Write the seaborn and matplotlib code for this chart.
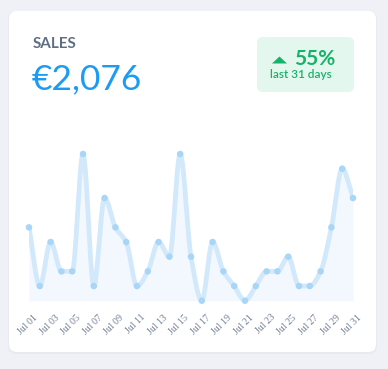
import numpy as np
import matplotlib
matplotlib.use("Agg")
import matplotlib.pyplot as plt
from matplotlib.patches import FancyBboxPatch, Polygon
from matplotlib.transforms import ScaledTranslation
import seaborn as sns

# данные графика
days = list(range(1, 32))
sales = [5, 1, 4, 2, 2, 10, 1, 7, 5, 4, 1, 2, 4, 3, 10, 3, 0, 4, 2, 1,
         0, 1, 2, 2, 3, 1, 1, 2, 5, 9, 7]
tick_days = list(range(1, 32, 2))
tick_labels = ["Jul %02d" % d for d in tick_days]
title = "SALES"
total = "€2,076"
change = "55%"
period = "last 31 days"

W, H = 388, 369


def monotone(x, y, n=20):
    # монотонная кубическая кривая (как в Chart.js) для сглаженной линии
    x = np.asarray(x, float)
    y = np.asarray(y, float)
    h = np.diff(x)
    d = np.diff(y) / h
    m = np.zeros_like(y)
    m[0], m[-1] = d[0], d[-1]
    for i in range(1, len(y) - 1):
        if d[i - 1] * d[i] <= 0:
            m[i] = 0
        else:
            m[i] = 2 / (1 / d[i - 1] + 1 / d[i])
    xs, ys = [], []
    for i in range(len(x) - 1):
        t = np.linspace(0, 1, n, endpoint=False)
        h00 = 2 * t**3 - 3 * t**2 + 1
        h10 = t**3 - 2 * t**2 + t
        h01 = -2 * t**3 + 3 * t**2
        h11 = t**3 - t**2
        xs.append(x[i] + t * h[i])
        ys.append(h00 * y[i] + h10 * h[i] * m[i] + h01 * y[i + 1] + h11 * h[i] * m[i + 1])
    xs.append([x[-1]])
    ys.append([y[-1]])
    return np.concatenate(xs), np.concatenate(ys)


sns.set_style("white")
plt.rcParams['font.family'] = ['Lato', 'DejaVu Sans']

fig = plt.figure(figsize=(W / 100, H / 100), dpi=100)
fig.patch.set_facecolor("#eff1f6")

# фон-карточка в пиксельных координатах
bg = fig.add_axes([0, 0, 1, 1])
bg.set_xlim(0, W)
bg.set_ylim(H, 0)
bg.axis("off")
bg.add_patch(FancyBboxPatch((8, 11), 369, 343, boxstyle="round,pad=0,rounding_size=8",
                            fc="#e7eaf1", ec="none"))
bg.add_patch(FancyBboxPatch((9, 11), 367, 341, boxstyle="round,pad=0,rounding_size=8",
                            fc="white", ec="none"))
bg.add_patch(FancyBboxPatch((257, 37), 97, 55, boxstyle="round,pad=0,rounding_size=6",
                            fc="#e4f7ee", ec="none"))
bg.add_patch(Polygon([(272, 63.5), (287, 63.5), (279.5, 56.5)], closed=True,
                     fc="#17b26a", ec="none"))

bg.text(33, 48, title, fontsize=11, fontweight="bold", color="#5e6e85", va="baseline")
bg.text(32, 89.5, total, fontsize=25.5, color="#1c9bf5", va="baseline")
bg.text(294, 65, change, fontsize=15, fontweight="bold", color="#17b26a", va="baseline")
bg.text(270, 78.5, period, fontsize=8.5, fontweight="semibold", color="#17b26a",
        va="baseline")

# область графика
y0, ytop = 300.7, 140
unit = 14.67
ax = fig.add_axes([29 / W, 1 - y0 / H, (353 - 29) / W, (y0 - ytop) / H])
ax.set_facecolor("none")

cx, cy = monotone(days, sales)
ax.fill_between(cx, cy, 0, color="#f3f7fe", lw=0)
sns.lineplot(x=cx, y=cy, ax=ax, color="#d2e8fb", lw=3.4, solid_capstyle="round")
sns.scatterplot(x=days, y=sales, ax=ax, color="#a8d6f7", s=22, edgecolor="none",
                zorder=5, clip_on=False)

ax.set_xlim(1, 31)
ax.set_ylim(0, (y0 - ytop) / unit)
ax.set_yticks([])
ax.set_xticks(tick_days)
ax.set_xticklabels(tick_labels, rotation=45, ha="right", rotation_mode="anchor",
                   fontsize=7, color="#6f7d92", family=["Liberation Serif"])
ax.tick_params(axis="x", length=0, pad=8)
shift = ScaledTranslation(4 / 100, -1 / 100, fig.dpi_scale_trans)
for lab in ax.get_xticklabels():
    lab.set_transform(lab.get_transform() + shift)
for s in ax.spines.values():
    s.set_visible(False)

fig.savefig("out.png", dpi=100)
